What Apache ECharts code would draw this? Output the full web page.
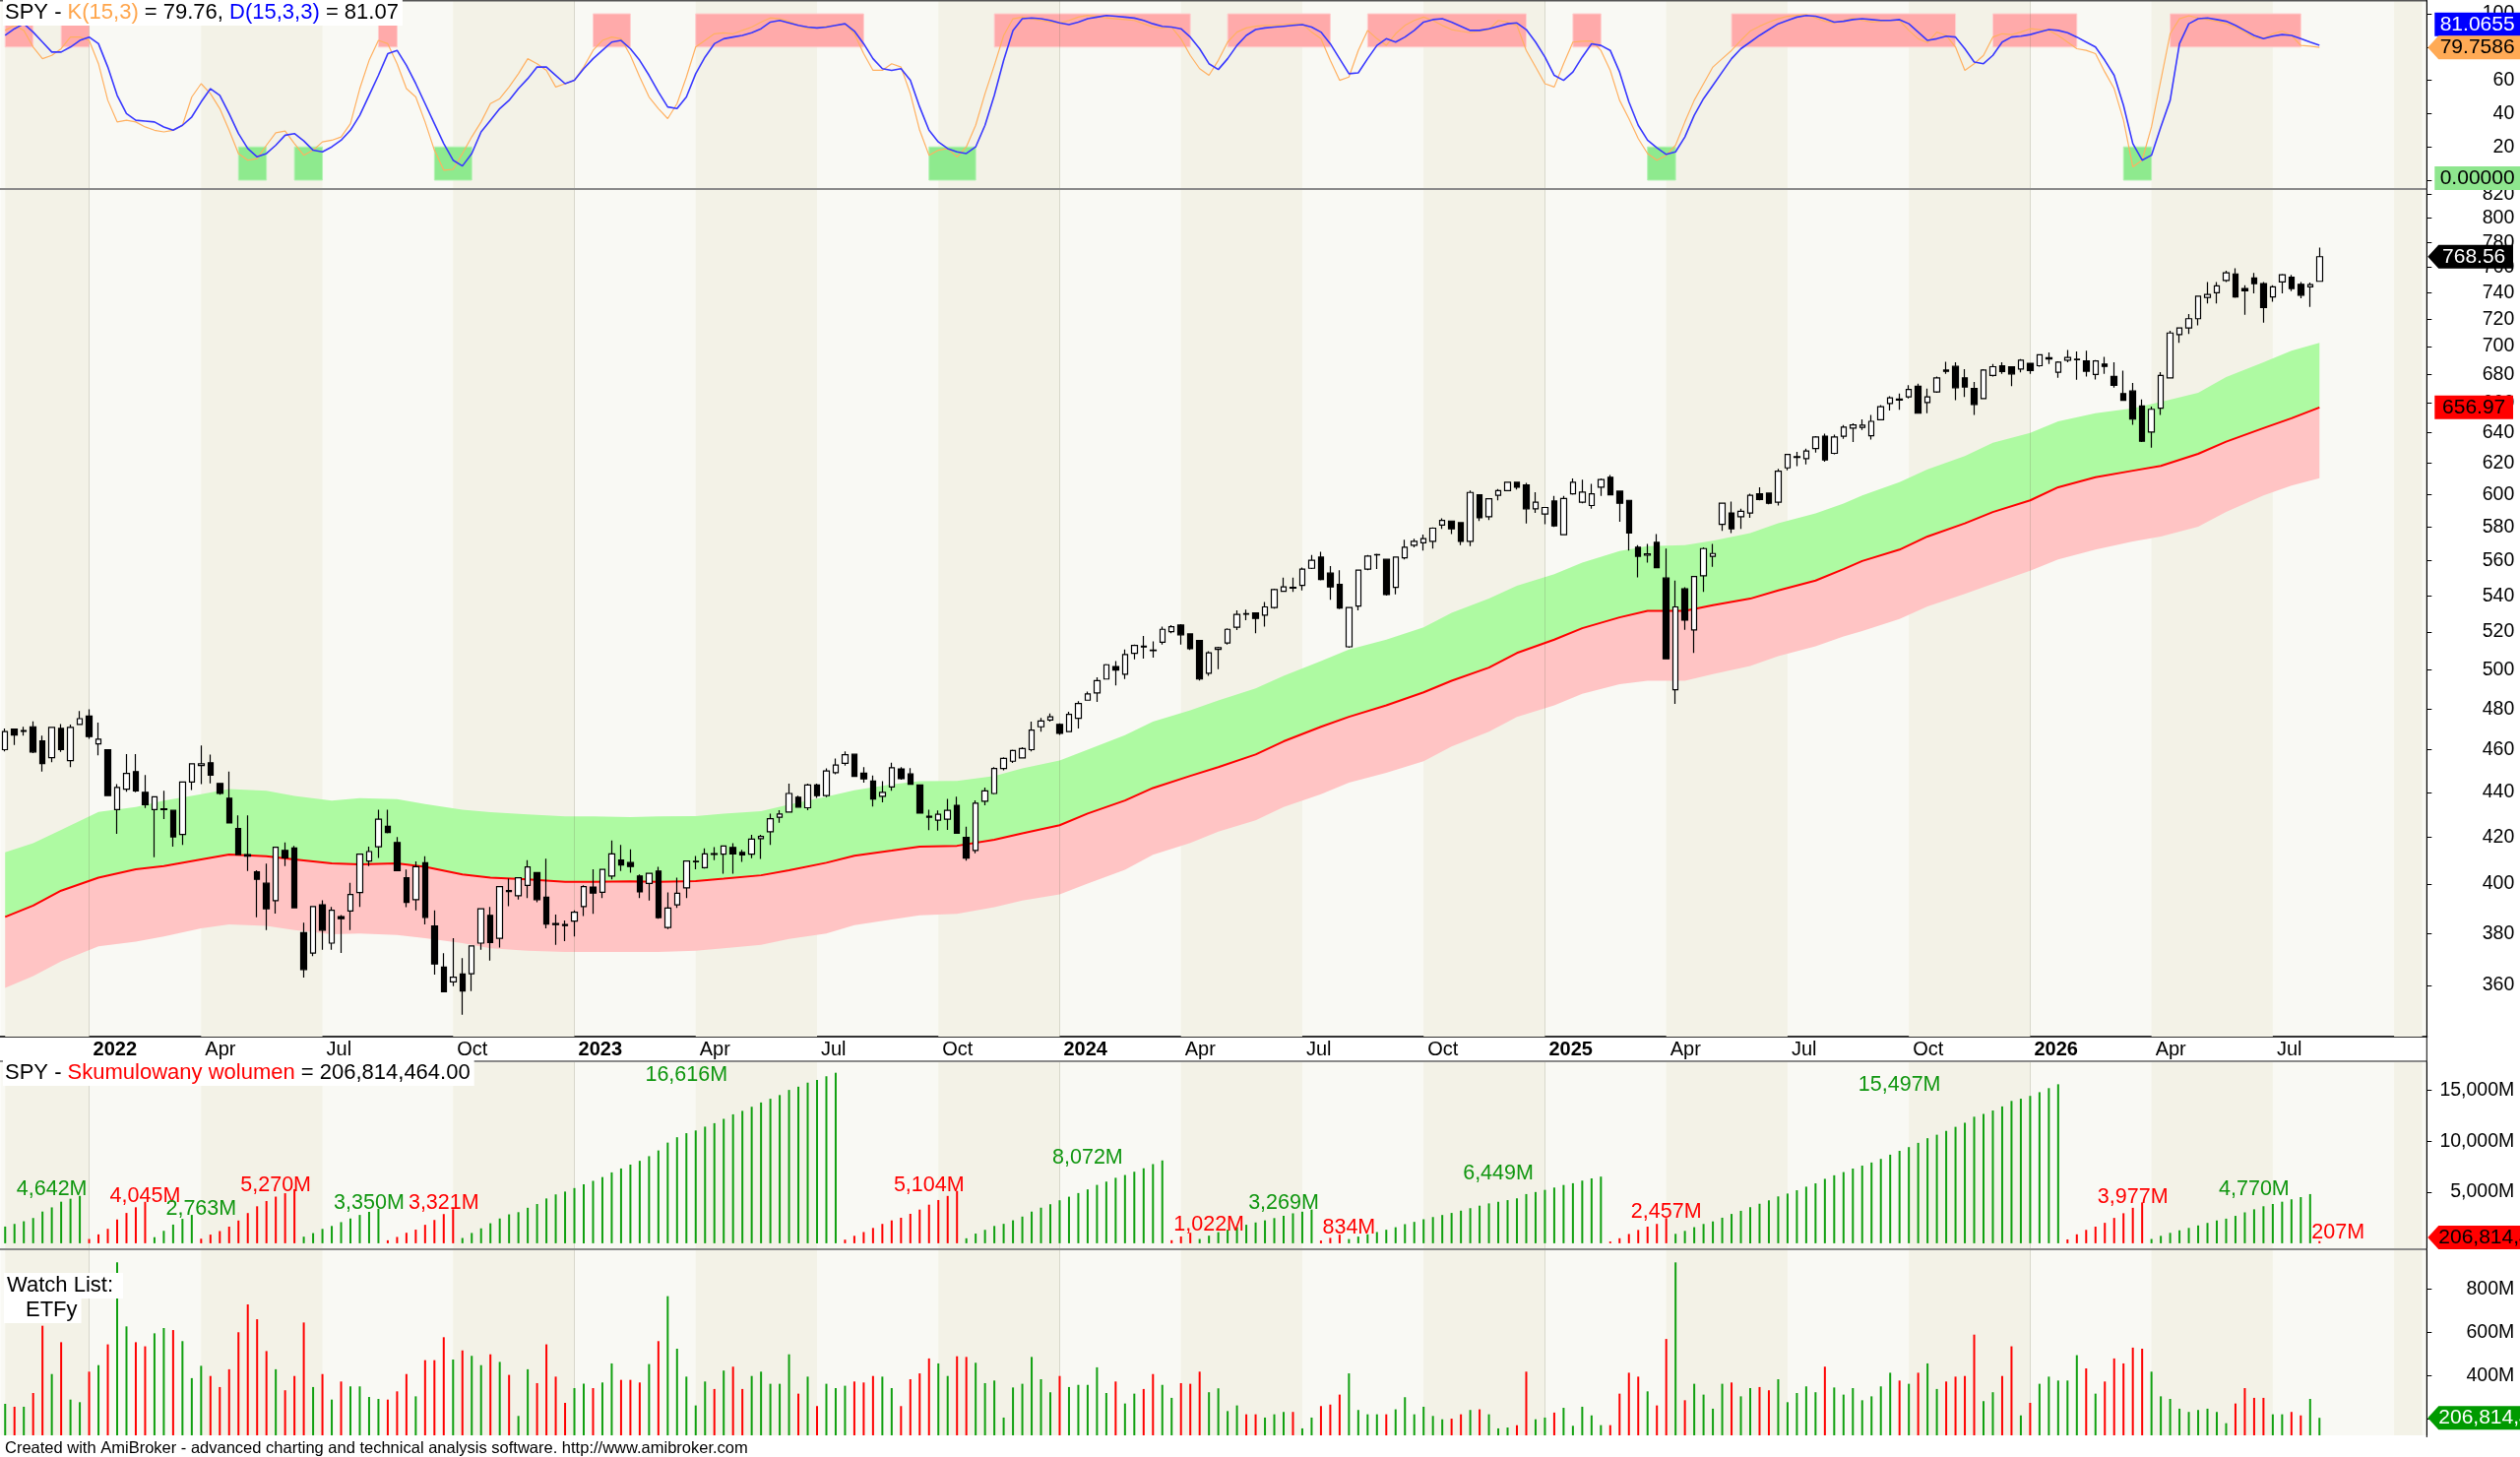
<!DOCTYPE html>
<html lang="pl">
<head>
<meta charset="UTF-8">
<title>SPY - tygodniowy</title>
<script src="https://cdn.jsdelivr.net/npm/echarts@6.0.0/dist/echarts.min.js"></script>
<style>
  html, body { margin: 0; padding: 0; background: #fff; }
  #main { width: 2560px; height: 1480px; }
</style>
</head>
<body>
<div id="main"></div>
<script>
// ---- dane tygodniowe SPY ----
var firstWeek = Date.UTC(2021, 10, 5);   // piatek pierwszej swiecy
var slotCount = 260;                     // swiece + puste miejsce po prawej

var opens = [
  460.1,470.1,468.9,471.2,464.3,456.3,470.4,454.9,472.3,476.5, 462.9,460.1,432.3,441.6,449.7,440.1,432.3,432.3,431.9,421.2,
  444.9,452.6,453.9,444.2,437.4,423.8,412.5,405.2,400.4,393.2, 414.3,415.3,380.3,372.3,391.5,376.2,386.7,389.0,396.5,409.7,
  415.9,424.8,417.7,402.7,393.6,409.0,383.0,366.9,361.3,364.3, 364.4,376.2,387.2,378.1,397.3,395.2,399.5,404.8,394.6,383.9,
  383.5,384.9,390.8,398.8,396.6,403.4,410.2,409.1,403.4,400.3, 405.5,382.4,391.5,398.5,409.4,406.9,412.9,412.7,415.6,413.4,
  412.7,419.4,422.4,428.9,431.2,437.9,433.1,443.5,438.6,449.2, 453.6,457.9,449.0,445.3,438.3,442.6,451.0,448.6,443.5,429.3,
  427.5,428.0,434.2,420.0,414.3,436.1,439.6,451.2,454.6,456.2, 460.1,471.2,474.5,472.4,468.8,475.4,484.4,488.1,495.2,501.7,
  497.7,508.6,512.4,510.3,514.5,520.2,523.8,519.0,515.4,498.2, 510.7,514.1,522.6,530.0,530.5,529.2,533.4,542.6,544.8,545.9,
  555.7,562.2,552.9,546.4,512.1,534.3,555.2,563.5,560.9,544.8, 561.8,569.2,570.6,571.5,581.3,583.7,582.7,571.5,599.9,586.3,
  599.5,602.5,607.7,606.0,591.2,588.0,596.0,575.5,600.5,595.2, 593.2,604.6,610.9,602.1,596.4,568.0,563.3,570.9,550.1,489.7,
  543.9,521.2,551.4,562.7,581.7,588.6,586.3,588.6,600.5,600.9, 595.2,616.9,623.6,622.9,629.4,637.6,626.3,637.6,643.0,643.5,
  637.9,648.6,659.7,662.8,664.2,671.6,660.3,667.7,683.0,685.6, 677.5,670.0,663.1,679.2,686.1,685.4,683.8,687.8,686.1,691.0,
  681.5,690.1,690.4,689.6,679.9,687.3,678.5,666.5,668.3,657.9, 640.4,656.4,677.5,708.7,713.6,720.5,736.6,740.2,749.8,754.9,
  743.5,751.7,747.3,737.1,748.6,752.4,746.8,744.8,749.1
];
var highs = [
  470.4,470.1,471.2,473.9,466.9,470.9,472.5,472.3,479.0,479.8, 473.3,460.1,443.9,458.0,458.0,448.1,438.1,440.8,431.9,444.9,
  453.4,462.1,457.7,444.2,449.7,429.7,429.7,405.8,408.6,415.7, 417.7,416.3,384.3,390.8,393.3,390.6,387.3,400.6,412.7,415.9,
  432.2,432.2,420.1,406.1,409.6,411.8,389.2,372.3,378.1,370.4, 375.1,389.9,390.6,399.0,402.3,402.7,410.1,404.8,410.7,387.5,
  385.2,389.2,399.5,406.2,406.2,418.6,416.7,414.8,404.1,404.5, 407.3,396.6,402.7,409.7,411.9,415.2,415.7,416.2,417.4,414.5,
  421.1,421.1,430.5,432.0,444.1,438.6,444.1,444.1,451.2,455.9, 459.3,457.9,451.8,447.9,445.3,453.9,451.8,451.3,443.5,432.2,
  431.9,437.1,438.1,424.6,436.4,442.3,451.8,456.5,460.1,461.3, 473.7,475.6,477.8,472.9,478.6,483.9,488.8,496.1,503.0,504.6,
  510.7,513.3,517.9,515.0,522.9,523.8,524.3,519.0,515.4,509.8, 512.1,522.0,531.9,532.3,530.5,536.5,544.0,550.3,550.3,556.1,
  563.4,565.3,557.0,554.6,533.4,554.6,563.4,564.2,560.9,562.5, 572.5,573.1,575.5,579.8,585.3,583.7,582.7,602.5,599.9,597.8,
  603.5,608.1,607.7,607.3,601.5,592.0,599.2,599.2,610.2,609.4, 606.7,610.2,612.4,602.1,596.4,569.2,570.0,575.8,567.2,548.6,
  544.8,550.9,568.0,570.0,594.6,595.6,591.2,600.5,604.6,600.9, 616.3,625.6,627.2,629.4,637.6,639.3,638.6,645.1,646.2,648.8,
  651.9,658.6,664.7,666.5,672.3,673.4,670.0,678.5,689.0,688.6, 683.7,674.6,683.7,687.3,688.6,685.4,690.9,687.8,694.0,695.7,
  689.3,697.4,696.4,696.9,690.1,692.5,688.6,682.6,673.9,662.4, 657.5,681.5,711.6,714.1,724.0,737.6,748.6,748.6,757.5,759.3,
  746.0,755.7,748.6,746.0,754.9,754.2,748.6,748.1,775.9
];
var lows = [
  459.3,462.4,466.9,458.5,449.7,454.1,459.0,451.8,472.0,465.3, 457.4,438.6,421.5,440.4,440.1,433.0,411.4,428.0,415.9,416.7,
  441.2,443.9,444.2,439.0,426.1,412.5,405.5,386.4,381.3,387.9, 407.6,390.3,362.9,371.1,373.6,373.6,372.4,381.3,390.6,407.6,
  411.1,421.7,405.7,390.5,389.2,383.6,364.1,357.6,359.7,349.2, 357.9,373.6,369.4,374.5,390.9,393.6,394.2,392.5,382.0,375.5,
  377.0,378.8,386.9,387.8,394.2,402.0,405.5,404.8,394.2,393.2, 385.9,381.7,390.2,394.2,406.2,406.6,410.1,404.4,404.4,409.4,
  411.0,410.6,416.7,426.4,431.2,433.1,432.0,437.6,437.9,448.5, 452.5,447.2,444.6,433.7,435.6,440.8,445.9,443.5,430.4,423.1,
  422.9,423.2,421.5,409.9,413.1,434.2,439.3,450.3,453.8,455.9, 459.3,468.8,473.7,467.2,468.5,470.4,484.4,483.5,495.2,491.9,
  495.2,505.4,505.8,506.3,513.3,519.4,513.3,510.4,494.4,496.9, 500.3,513.3,521.1,526.5,519.4,522.9,532.8,542.2,542.2,543.1,
  555.2,548.7,537.8,532.5,511.6,531.9,554.6,555.2,540.1,540.8, 560.9,568.0,566.1,567.2,579.0,575.8,569.2,568.6,583.7,584.3,
  596.4,602.5,603.1,582.2,588.6,581.7,580.2,575.5,599.9,594.6, 591.2,599.2,599.9,583.3,566.1,550.5,559.0,555.7,505.7,482.6,
  521.2,508.8,542.2,556.5,577.8,576.5,579.0,585.7,596.4,594.0, 593.2,615.4,618.0,619.1,626.8,620.8,625.7,635.9,633.7,641.8,
  635.4,648.1,654.8,655.3,663.1,653.0,653.0,667.0,680.3,661.9, 664.2,651.9,662.6,678.5,680.3,671.6,681.4,680.3,685.4,687.3,
  677.5,688.6,676.1,678.5,676.4,680.3,670.7,661.9,645.2,633.7, 630.0,651.9,677.5,702.7,709.2,715.6,732.1,732.1,748.6,736.3,
  723.5,739.7,717.5,733.3,739.7,741.5,735.9,729.5,749.1
];
var closes = [
  468.8,467.2,469.3,459.0,453.5,470.9,460.1,470.9,475.2,466.4, 465.1,438.6,442.4,448.9,440.8,434.5,438.1,432.6,420.2,444.9,
  453.4,453.4,448.1,439.6,426.3,412.5,411.8,402.0,389.9,415.7, 411.1,390.3,366.0,390.8,381.3,389.3,385.9,395.7,412.7,413.8,
  428.0,422.1,405.7,392.5,407.3,386.4,368.1,357.6,363.1,357.9, 375.1,389.9,376.4,399.0,396.9,402.7,407.2,393.6,383.7,383.5,
  383.1,388.5,399.0,396.3,406.2,412.8,408.1,407.4,396.8,404.5, 386.3,390.2,396.2,409.7,409.6,412.8,412.6,416.2,412.8,412.4,
  419.2,420.4,428.2,430.3,439.6,433.4,443.5,438.6,450.0,452.8, 457.7,447.5,446.3,437.1,440.1,451.5,446.4,443.8,430.7,428.9,
  430.2,431.9,421.8,411.0,435.2,440.8,451.2,455.9,459.7,460.6, 469.6,474.0,476.1,468.0,477.3,482.7,487.6,494.4,502.6,499.8,
  508.0,512.8,512.0,510.0,521.5,522.9,518.5,511.1,495.2,508.9, 511.6,521.5,529.6,529.8,527.4,533.8,543.5,545.0,544.4,555.2,
  560.3,549.3,545.0,533.2,533.4,554.6,562.8,563.7,540.7,562.2, 568.0,571.5,573.1,579.4,584.1,579.0,571.5,601.3,585.7,597.4,
  602.5,607.7,604.6,591.2,595.2,592.0,580.8,597.6,607.7,601.5, 600.5,609.4,599.9,594.6,576.5,562.7,564.1,556.1,505.7,533.8,
  526.5,550.9,567.2,564.3,594.6,579.0,589.6,599.5,597.0,594.6, 614.8,625.6,624.2,627.8,637.1,622.0,637.1,643.6,645.1,645.0,
  647.5,657.5,663.5,662.0,669.3,653.0,664.2,677.5,682.1,670.6, 671.1,659.0,683.1,685.4,681.9,680.3,690.1,682.6,694.0,691.8,
  688.6,692.0,690.8,682.2,689.6,685.6,672.3,661.9,649.0,634.3, 655.7,679.2,709.9,713.6,720.5,737.6,738.9,745.5,755.7,737.1,
  741.7,747.3,728.9,744.8,754.2,743.5,738.4,746.6,768.56
];
// wolumen tygodniowy w mln akcji
var volumeM = [
  271.5,258,258,321.5,632,409,556,291,279,420, 450,546,924.5,629,556,537,597,621.5,612,561,
  390,447,400,349,431,602,730.5,662,515,431, 334,400,647,349,409,291,374.5,352,352,303,
  294,291,329,409,306,473,473,579,476,518, 493,450,500,465,405,215.5,431,367,546,397,
  276,344,364,344,370,458,382,382,370,455, 561,768.5,526,397,264,374.5,340,425,443,340,
  400,420,364,364,500,318.5,397,261,364,344, 355,374.5,370,400,397,344,261,385,412,481,
  458,400,491,488,461,367,379,208,347,364, 488,385,325,400,349,359,359,440,321.5,374.5,
  273,318.5,340,409,359,299,367,364,420,325, 343,238,264,223,223,208,223,234,234,158,
  208,261,268,314,412,243,223,223,223,246, 302,223,258,215.5,200,203,223,243,246,223,
  158,162,173,420,200,208,231,253,170,258, 218,173,173,318.5,415,397,329,264,571,924.5,
  288,364,314,249,364,370,306,344,349,334, 385,279,321.5,352,325,443,347,314,344,288,
  306,352,415,379,364,415,458,340,374.5,397, 400,591,284,325,400,537,218,276,364,397,
  379,379,496,435,318.5,374.5,481,458,531,526, 420,306,294,249,234,243,249,234,182,273,
  344,299,299,223,223,234,218,294,206.814464
];

// stochastyka K(15,3) i D(15,3,3)
var stochK = [
  90,93,90,80,73,75,79,86,86,84, 70,48,35,36,35,32,30,29,30,33, 50,58,52,43,30,16,12,13,21,28.5,
  29.5,22,15,18,23,24,26,34,55,72, 84,82,70,55,50,35,18,6,6.5,16, 26,35,46,49,56,64,73,70,66,56,
  58,60,68,78,84,86,85,75,62,50, 43,37,46,62,80,84,88,88.5,88,90, 92,95,97.5,97,95.5,93,91,91.5,92.5,93,
  94,88,76,66,66,70,68,52,30,15, 18,19,14,20,33,52,69,87,97,98, 97,96,95,94.5,96,98,99,98.5,97.5,97,
  96.5,96,94,92,91.5,92,85,75,67,63, 72,83,89,91.5,92.5,93,93,93.5,94,94, 89,85,72,60,62,78,90,85,81,88,
  93,96,98,96,93,90.5,89.5,88.6,89.5,90.5, 96,95,93,78,68,58,56,70,83,83.5, 83.7,78,66,48,37,25,16,12,15,21,
  35,48,58,68,73,78,84,89.6,92.5,95, 97,98.5,99,99.5,97.5,95.5,94.5,96,97.4,96, 95,95.5,96,96,90,85,82.7,89,87,80,
  66,70,75,86,88,87.5,89,91,90.5,90, 87,83,79,78,76,65,55,36,8,12, 32,60,88,97,98.8,97.5,96.5,95.5,94,92,
  89,85.5,85,88,89.6,87,81,80.5,79.7586
];
var stochD = [
  87,91,94,89,83,77,77,80,84,86, 82,68,51,40,36,35.5,35,32,30,33, 38,47,55,51,40,28,19,14,16,21,
  27,28,23.6,18,17,20,24,30,39,51, 63,76,78,69,58,46,34,22,12,8.5, 16,29,36,43,48,55,61,68,68,63,
  58,60,67,73,78,83,84,79,72,63, 53,44,43,50,64,74,82,85,86,87, 88.6,91,95,96,94.5,93,92,91.5,92,93,
  94,89.6,82,73,67,66,67,60,44,30, 23,19,17,16,20,33,51,72,90,97, 97.5,97,96,94.5,93.5,95,97,98,99,98.5,
  98,97.4,96,94,92.5,92,91,86,79,70, 66.5,73,81,87,90.5,91.5,92,92.5,93,93.5, 92,89,82,73,64,64.5,73,81,85,83,
  86,90,95,96.5,97,95,92.5,90,90,91, 92.5,94,94.5,90.5,83,74,63,60,65,74, 82,81,78,65,47,33,24,19.5,15.5,17,
  26,39,49,57,65,73,79,83,87,90.5, 94,96,98,99,98.5,97,95,95.5,96.5,97, 96.5,96,96,96.5,94,89,84,85,86.5,86,
  79,71,70,75,83,86,86.5,87.5,89,90.5, 90,88.6,86,83,80,72,63,45,22,12, 15,32,48,82,94,97,97.5,96.5,95.5,93,
  90,87,85,86.5,87.5,87,85,83,81.0655
];
// strefy wykupienia (K > 80) i wyprzedania (K < 20): [od swiecy, do swiecy]
var overbought = [[0,3],[6,9],[40,42],[63,67],[74,92],[106,127],[131,142],[146,163],[168,171],[185,209],[213,222],[232,246]];
var oversold = [[25,28],[31,34],[46,50],[99,104],[176,179],[227,230]];

// srednia i koperta (probki co kilka tygodni)
var maIdx = [0,3,6,10,14,17,21,24,28,31,35,38,42,45,49, 52,56,60,63,67,70,74,77,81,84,88,91,95,98,
  102,106,109,113,116,120,123,127,130,134,137,141,144,148, 152,155,159,162,166,169,173,176,180,183,187,190,194,197,
  199,203,206,210,213,217,220,224,228,231,235,238,242,245,248];
var maVal = [386.6,391.2,397.3,402.7,406.2,407.6,410.4,412.5,411.8,410.4,408.7,408.3,408.7,407.3,404.1,
  402.7,402.0,401.0,401.0,401.2,401.0,401.3,402.3,403.7,405.8,409.0,412.0,414.2,415.9,
  416.3,418.9,421.7,425.3,430.5,436.4,442.1,447.7,451.8,457.8,464.1,471.2,476.1,481.8,
  488.4,494.3,501.1,508.8,515.9,522.1,528.0,531.6,531.6,534.7,538.4,543.0,548.6,555.2,
  559.9,566.6,574.4,582.3,589.2,596.4,604.6,610.9,615.1,618.2,626.0,634.0,643.0,649.6,656.97];
var envUpper = [413.5,417.4,423.2,431.2,433.4,436.3,439.3,441.6,440.8,438.5,436.3,437.5,437.0,434.8,432.2,
  431.1,430.1,429.2,429.2,428.9,429.2,429.3,430.4,431.6,434.6,438.1,441.1,443.8,445.3,
  445.4,447.7,451.2,454.9,460.1,467.1,473.7,479.3,484.3,490.4,496.9,504.6,510.7,515.9,
  522.6,530.5,538.4,545.7,552.3,559.0,565.7,568.6,569.2,571.9,576.4,582.3,588.3,594.4,
  599.5,607.8,616.0,624.6,633.2,639.7,647.5,653.0,656.3,660.8,667.0,678.0,688.6,696.9,702.7];
var envLower = [359.1,363.5,369.1,374.9,376.8,378.8,382.0,383.6,383.0,381.3,379.7,380.0,379.4,378.1,376.2,
  374.2,373.2,372.7,372.7,372.7,372.7,373.2,374.2,375.5,377.8,380.0,383.3,385.6,387.2,
  387.8,390.5,393.2,395.8,400.3,406.0,412.4,417.5,422.5,427.5,433.4,439.3,444.6,449.2,
  454.6,461.6,468.8,476.0,481.8,487.7,492.6,494.3,494.3,497.8,502.0,507.1,512.3,517.6,
  520.5,527.2,534.0,541.1,546.8,554.3,560.9,566.6,571.5,574.4,580.3,589.2,599.5,605.7,610.3];

// skumulowany wolumen: serie wzrostowe / spadkowe
var runStart = [0,9,16,21,32,41,49,90,103,125,128,141,144,172,179,221,230,248];
var runUp = [1,0,1,0,1,0,1,0,1,0,1,0,1,0,1,0,1,0];
var runLabel = ['4,642M','4,045M','2,763M','5,270M','3,350M','3,321M','16,616M','5,104M','8,072M','1,022M',
  '3,269M','834M','6,449M','2,457M','15,497M','3,977M','4,770M','207M'];
var runLabelIdx = [5,15,21,29,39,47,73,99,116,129,137,144,160,178,203,228,241,250];
var runLabelVal = [5265,4648,3394,5709,3973,3915,16509,5651,8409,1794,3915,1562,6866,3076,15487,4552,5323,1022];
var cumCarry = 1366;   // wolumen serii sprzed pierwszej swiecy

// opisy osi
var priceTicks = [360,380,400,420,440,460,480,500,520,540,560,580,600,620,640,660,680,700,720,740,760,780,800,820];
var stochTicks = [0,20,40,60,80,100];
var cumTicks = [5000,10000,15000];
var volTicks = [200,400,600,800];
var quarterNames = ['', 'Apr', 'Jul', 'Oct'];

// ---- wyglad ----
var FONT = "'Liberation Sans', Arial, sans-serif";
var GREEN = '#10a010', RED = '#ff0000', LABEL_GREEN = '#0f960f';
var BG = '#f9f9f4', SHADE = '#f3f2e7';
var GRID_LEFT = 0.5, GRID_W = 2464.8;
var AXIS_X = GRID_LEFT + GRID_W;

var chart = echarts.init(document.getElementById('main'));
var N = closes.length;

var weeks = [];
for (var i = 0; i < slotCount; i++) {
  weeks.push(new Date(firstWeek + i * 7 * 86400000).toISOString().slice(0, 10));
}
function quarterOf(i) { return Math.floor((+weeks[i].slice(5, 7) - 1) / 3); }

var qStarts = [];
for (i = 1; i < slotCount; i++) {
  if (quarterOf(i) !== quarterOf(i - 1)) qStarts.push(i);
}
// podpisy kwartalow tylko w zakresie danych
var qLabel = {};
qStarts.forEach(function (q) {
  if (q >= N) return;
  qLabel[q] = quarterOf(q) === 0 ? '{y|' + weeks[q].slice(0, 4) + '}' : quarterNames[quarterOf(q)];
});
var yearStarts = qStarts.filter(function (q) { return quarterOf(q) === 0; });
var bounds = [0].concat(qStarts, [slotCount - 1]);
var shade = [];
for (var k = 0; k < bounds.length - 1; k++) {
  if (quarterOf(bounds[k]) % 2 === 1) {
    shade.push([{ xAxis: weeks[bounds[k]] }, { xAxis: weeks[bounds[k + 1]] }]);
  }
}

function thousands(n) {
  var s = String(Math.round(n));
  return s.replace(/\B(?=(\d{3})+(?!\d))/g, ',');
}

// skumulowany wolumen liczony w seriach
var cum = [], runOf = [];
var r = 0;
for (i = 0; i < N; i++) {
  while (r + 1 < runStart.length && runStart[r + 1] <= i) r++;
  runOf.push(r);
  var base = i === runStart[r] ? (i === 0 ? cumCarry : 0) : cum[i - 1];
  cum.push(base + volumeM[i]);
}
var cumData = cum.map(function (v, j) {
  return { value: v, itemStyle: { color: runUp[runOf[j]] ? GREEN : RED } };
});
var volData = volumeM.map(function (v, j) {
  return { value: v, itemStyle: { color: closes[j] > opens[j] ? GREEN : RED } };
});
var candleData = closes.map(function (c, j) {
  return [Math.log(opens[j]), Math.log(c), Math.log(lows[j]), Math.log(highs[j])];
});

function backdrop(g) {
  return {
    type: 'line', xAxisIndex: g, yAxisIndex: g, data: [], silent: true, z: 1,
    markArea: { silent: true, z: 1, label: { show: false }, itemStyle: { color: SHADE }, data: shade },
    markLine: {
      silent: true, z: 3, symbol: 'none', label: { show: false },
      lineStyle: { color: 'rgba(110,110,80,0.22)', width: 1, type: 'solid' },
      data: yearStarts.map(function (q) { return { xAxis: weeks[q] }; })
    }
  };
}

function rightAxis(g, min, max, ticks, fmt) {
  return {
    type: 'value', gridIndex: g, position: 'right', min: min, max: max, scale: true,
    splitLine: { show: false },
    axisLine: { show: true, onZero: false, lineStyle: { color: '#000', width: 1 } },
    axisTick: { show: true, length: 5, customValues: ticks, lineStyle: { color: '#000' } },
    axisLabel: {
      customValues: ticks, formatter: fmt, margin: 89, align: 'right',
      fontSize: 19.5, fontFamily: FONT, color: '#000'
    }
  };
}

function grid(top, height) {
  return { left: GRID_LEFT, width: GRID_W, top: top, height: height, show: true,
    backgroundColor: BG, borderWidth: 0, containLabel: false, outerBoundsMode: 'none' };
}

function xCat(g, visible) {
  var ax = { type: 'category', gridIndex: g, data: weeks, boundaryGap: true, show: visible };
  if (visible) {
    ax.axisLine = { onZero: false, lineStyle: { color: '#333', width: 2 } };
    ax.axisTick = { alignWithLabel: true, length: 6, lineStyle: { color: '#333' },
      interval: function (idx) { return qLabel[idx] !== undefined; } };
    ax.axisLabel = {
      interval: function (idx) { return qLabel[idx] !== undefined; },
      formatter: function (val, idx) { return qLabel[idx] || ''; },
      align: 'left', padding: [0, 0, 0, 4], margin: 3,
      fontSize: 20, fontFamily: FONT, color: '#000',
      rich: { y: { fontSize: 20, fontFamily: FONT, fontWeight: 'bold', color: '#000' } }
    };
    ax.splitLine = { show: false };
  }
  return ax;
}

var option = {
  animation: false,
  backgroundColor: '#ffffff',
  grid: [grid(1, 190), grid(193, 860), grid(1079, 189), grid(1270, 188)],
  xAxis: [xCat(0, false), xCat(1, true), xCat(2, false), xCat(3, false)],
  yAxis: [
    rightAxis(0, -4.73, 107.69, stochTicks, function (v) { return String(Math.round(v)); }),
    rightAxis(1, Math.log(341.3), Math.log(823.8), priceTicks.map(Math.log),
      function (v) { return String(Math.round(Math.exp(v))); }),
    rightAxis(2, -492, 17734, cumTicks, function (v) { return thousands(v) + 'M'; }),
    rightAxis(3, 125.9, 980.5, volTicks, function (v) { return Math.round(v) + 'M'; })
  ],
  series: [
    // panel stochastyki
    backdrop(0),
    {
      type: 'line', xAxisIndex: 0, yAxisIndex: 0, data: [], silent: true, z: 2,
      markArea: {
        silent: true, z: 2, label: { show: false },
        data: overbought.map(function (p) {
          return [{ xAxis: weeks[p[0]], yAxis: 80, itemStyle: { color: '#ffaaaa', borderColor: '#ffcfcf', borderWidth: 1 } },
                  { xAxis: weeks[p[1]], yAxis: 100 }];
        }).concat(oversold.map(function (p) {
          return [{ xAxis: weeks[p[0]], yAxis: 0, itemStyle: { color: '#8eea8e', borderColor: '#b4f2b4', borderWidth: 1 } },
                  { xAxis: weeks[p[1]], yAxis: 20 }];
        }))
      }
    },
    { name: 'K', type: 'line', xAxisIndex: 0, yAxisIndex: 0, data: stochK, symbol: 'none', silent: true, z: 4,
      lineStyle: { color: '#ffb060', width: 1.2 } },
    { name: 'D', type: 'line', xAxisIndex: 0, yAxisIndex: 0, data: stochD, symbol: 'none', silent: true, z: 5,
      lineStyle: { color: '#3838ff', width: 1.6 } },

    // panel ceny
    backdrop(1),
    {
      type: 'custom', xAxisIndex: 1, yAxisIndex: 1, silent: true, z: 2,
      data: [[0, Math.log(400)]], encode: { x: 0, y: 1 },
      renderItem: function (params, api) {
        var up = [], mid = [], lo = [];
        for (var j = 0; j < maIdx.length; j++) {
          up.push(api.coord([maIdx[j], Math.log(envUpper[j])]));
          mid.push(api.coord([maIdx[j], Math.log(maVal[j])]));
          lo.push(api.coord([maIdx[j], Math.log(envLower[j])]));
        }
        return { type: 'group', children: [
          { type: 'polygon', shape: { points: up.concat(mid.slice().reverse()) }, style: { fill: '#aefaa2' } },
          { type: 'polygon', shape: { points: mid.concat(lo.slice().reverse()) }, style: { fill: '#ffc4c4' } }
        ] };
      }
    },
    { type: 'line', xAxisIndex: 1, yAxisIndex: 1, symbol: 'none', silent: true, z: 4,
      data: maIdx.map(function (x, j) { return [x, Math.log(maVal[j])]; }),
      lineStyle: { color: '#ff0000', width: 2 } },
    { type: 'candlestick', xAxisIndex: 1, yAxisIndex: 1, data: candleData, barWidth: 6, silent: true, z: 5,
      itemStyle: { color: '#ffffff', color0: '#000000', borderColor: '#000000', borderColor0: '#000000', borderWidth: 1.2 } },

    // panel skumulowanego wolumenu
    backdrop(2),
    { type: 'bar', xAxisIndex: 2, yAxisIndex: 2, data: cumData, barWidth: 2, silent: true, z: 4 },
    { type: 'scatter', xAxisIndex: 2, yAxisIndex: 2, symbolSize: 2, silent: true, z: 6,
      itemStyle: { color: 'rgba(0,0,0,0)' },
      data: runLabel.map(function (t, j) {
        return { name: t, value: [runLabelIdx[j], runLabelVal[j]],
          label: { color: runUp[j] ? LABEL_GREEN : RED } };
      }),
      label: { show: true, position: 'inside', formatter: function (p) { return p.name; },
        fontSize: 21.5, fontFamily: FONT, opacity: 1, textBorderWidth: 0 } },

    // panel wolumenu
    backdrop(3),
    { type: 'bar', xAxisIndex: 3, yAxisIndex: 3, data: volData, barWidth: 2, silent: true, z: 4 }
  ]
};
chart.setOption(option);

// ---- opisy, ramki i etykiety wartosci ----
var TOP_Z = 100;
function tag(y, text, fill, textFill, arrow, xr, leftText) {
  var h = 24, xl = AXIS_X + 8;
  var shape = arrow
    ? { type: 'polygon', z: TOP_Z, shape: { points: [[AXIS_X + 1, y], [xl + 4, y - h / 2], [xr, y - h / 2], [xr, y + h / 2], [xl + 4, y + h / 2]] }, style: { fill: fill } }
    : { type: 'rect', z: TOP_Z, shape: { x: xl, y: y - h / 2, width: xr - xl, height: h }, style: { fill: fill } };
  return [shape, {
    type: 'text', z: TOP_Z + 1, x: leftText ? xl + 4 : (xl + xr) / 2, y: y,
    style: { text: text, font: '21px ' + FONT, fill: textFill, align: leftText ? 'left' : 'center', verticalAlign: 'middle' }
  }];
}
function yPix(g, v) { return chart.convertToPixel({ yAxisIndex: g }, v); }
function hline(y, h, color) {
  return { type: 'rect', z: 90, shape: { x: 0, y: y, width: AXIS_X, height: h }, style: { fill: color } };
}

var lastK = stochK[N - 1], lastD = stochD[N - 1];
var yK = yPix(0, lastK);
var yD = Math.min(yPix(0, lastD), yK - 23.5);
var lastVolText = thousands(volumeM[N - 1] * 1e6);

var graphics = [
  hline(0, 1.5, '#555'),
  hline(191, 2, '#8a8a8a'),
  hline(1077, 2, '#8a8a8a'),
  hline(1268, 2, '#8a8a8a'),
  { type: 'rect', z: 90, shape: { x: AXIS_X - 0.5, y: 0, width: 1, height: 1460 }, style: { fill: '#000' } },
  { type: 'text', z: 95, x: 3, y: 13, style: {
      text: 'SPY - {k|K(15,3)} = ' + lastK.toFixed(2) + ', {d|D(15,3,3)} = ' + lastD.toFixed(2),
      font: '22px ' + FONT, fill: '#000', verticalAlign: 'middle', backgroundColor: '#fff', padding: [2, 4, 2, 2],
      rich: { k: { fill: '#ffa64d', font: '22px ' + FONT }, d: { fill: '#0000ff', font: '22px ' + FONT } } } },
  { type: 'text', z: 95, x: 3, y: 1090, style: {
      text: 'SPY - {r|Skumulowany wolumen} = ' + lastVolText + '.00',
      font: '22px ' + FONT, fill: '#000', verticalAlign: 'middle', backgroundColor: '#fff', padding: [2, 4, 2, 2],
      rich: { r: { fill: '#ff0000', font: '22px ' + FONT } } } },
  { type: 'text', z: 95, x: 4, y: 1306, style: { text: 'Watch List:', font: '22px ' + FONT, fill: '#000',
      verticalAlign: 'middle', backgroundColor: '#fff', padding: [2, 10, 2, 3] } },
  { type: 'text', z: 95, x: 4, y: 1331, style: { text: 'ETFy', font: '22px ' + FONT, fill: '#000',
      verticalAlign: 'middle', backgroundColor: '#fff', padding: [2, 4, 2, 22] } },
  { type: 'text', z: 95, x: 5, y: 1471, style: {
      text: 'Created with AmiBroker - advanced charting and technical analysis software. http://www.amibroker.com',
      font: '16.5px ' + FONT, fill: '#000', verticalAlign: 'middle' } }
].concat(
  tag(yD, lastD.toFixed(4), '#0000ff', '#ffffff', false, 2560),
  tag(yK, lastK.toFixed(4), '#ffaa55', '#000000', true, 2560),
  tag(Math.min(yPix(0, 0), 191 - 10), (0).toFixed(5), '#8ee68e', '#000000', false, 2560),
  tag(yPix(1, Math.log(closes[N - 1])), closes[N - 1].toFixed(2), '#000000', '#ffffff', true, 2553),
  tag(yPix(1, Math.log(maVal[maVal.length - 1])), maVal[maVal.length - 1].toFixed(2), '#ff0000', '#000000', false, 2553),
  tag(Math.min(yPix(2, cum[N - 1]), 1268 - 11), lastVolText, '#ff0000', '#000000', true, 2600, true),
  tag(yPix(3, volumeM[N - 1]), lastVolText, '#009a00', '#ffffff', true, 2600, true)
);
chart.setOption({ graphic: graphics });
</script>
</body>
</html>
